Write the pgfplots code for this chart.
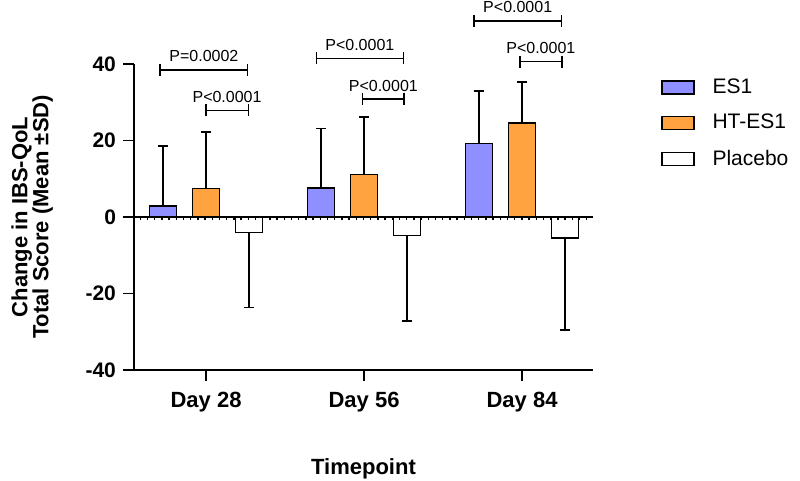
\documentclass[border=0pt]{standalone}
\usepackage{pgfplots}
\pgfplotsset{compat=1.18}
\usepackage{pgfplotstable}
\usepackage{fontspec}
\setmainfont{Liberation Sans}
\usetikzlibrary{arrows.meta}

\definecolor{esblue}{RGB}{143,143,255}
\definecolor{htorange}{RGB}{255,163,64}

% mean change and SD (one-sided error bars)
\pgfplotstableread{
x y err
0 2.9 15.7
1 7.6 15.5
2 19.2 13.8
}\esone
\pgfplotstableread{
x y err
0 7.4 14.8
1 11.1 15.0
2 24.6 10.7
}\htesone
\pgfplotstableread{
x y err
0 -4.0 19.6
1 -4.9 22.3
2 -5.5 24.1
}\placebo

\tikzset{
  pbar/.style={line width=0.75pt, {Bar[width=6pt]}-{Bar[width=6pt]}},
  plab/.style={anchor=south, inner sep=0pt, yshift=3.5pt, font=\fontsize{8}{9}\selectfont},
}

\begin{document}
\begin{tikzpicture}
\useasboundingbox (-67pt,-55.5pt) rectangle (333pt,185pt);
\begin{axis}[
  at={(0,0)}, anchor=south west,
  scale only axis, width=229.5pt, height=153pt,
  xmin=-0.456, xmax=2.449, ymin=-40, ymax=40,
  axis x line*=bottom, axis y line*=left,
  axis line style={line width=0.7pt, black},
  xtick={0,1,2}, xticklabels={Day 28,Day 56,Day 84},
  ytick={-40,-20,0,20,40}, yticklabels={-40,-20,0,20,40},
  tick align=outside, major tick length=5.5pt,
  tick style={line width=0.7pt, black},
  minor tick num=0,
  x tick label style={font=\bfseries\fontsize{11}{13}\selectfont, yshift=-2pt},
  y tick label style={font=\bfseries\fontsize{10.5}{12}\selectfont},
  xlabel={Timepoint},
  xlabel style={font=\bfseries\fontsize{11}{13}\selectfont,
    at={(axis description cs:0.5,0)}, anchor=center, yshift=-49.5pt},
  ylabel={Change in IBS-QoL\\[-2.5pt]Total Score (Mean ±SD)},
  ylabel style={font=\bfseries\fontsize{11}{13}\selectfont, align=center,
    at={(axis description cs:-0.222,0.5)}, anchor=center},
  ybar=8pt, bar width=13.5pt,
  clip=false,
  legend style={draw=none, fill=none, inner sep=0pt,
    at={(axis description cs:1.148,0.96)}, anchor=north west,
    font=\fontsize{10.5}{12}\selectfont, row sep=7pt, column sep=8pt,
    nodes={inner sep=1pt}},
  legend cell align=left,
  legend image code/.code={\draw[#1, line width=0.6pt] (0pt,-3.25pt) rectangle (16pt,3.25pt);},
  error bars/error bar style={line width=0.75pt, black},
  error bars/error mark options={rotate=90, mark size=2.5pt, line width=0.75pt, black},
]
\addplot[fill=esblue, draw=black, line width=0.6pt,
  error bars/.cd, y dir=plus, y explicit]
  table[x=x, y=y, y error=err]{\esone};
\addlegendentry{ES1}
\addplot[fill=htorange, draw=black, line width=0.6pt,
  error bars/.cd, y dir=plus, y explicit]
  table[x=x, y=y, y error=err]{\htesone};
\addlegendentry{HT-ES1}
\addplot[fill=white, draw=black, line width=0.6pt,
  error bars/.cd, y dir=minus, y explicit]
  table[x=x, y=y, y error=err]{\placebo};
\addlegendentry{Placebo}

% zero line with small dotted ticks
\draw[line width=0.7pt] (axis cs:-0.456,0) -- (axis cs:2.449,0);
\draw[line width=1pt, dash pattern=on 0.7pt off 2.9pt]
  ([yshift=-0.9pt]axis cs:-0.42,0) -- ([yshift=-0.9pt]axis cs:2.449,0);

% significance brackets
\draw[pbar] (axis cs:-0.295,38.5) -- node[plab]{P=0.0002} (axis cs:0.268,38.5);
\draw[pbar] (axis cs:-0.006,27.9) -- node[plab]{P<0.0001} (axis cs:0.272,27.9);
\draw[pbar] (axis cs:0.694,41.5) -- node[plab]{P<0.0001} (axis cs:1.253,41.5);
\draw[pbar] (axis cs:0.985,30.8) -- node[plab]{P<0.0001} (axis cs:1.259,30.8);
\draw[pbar] (axis cs:1.691,51.3) -- node[plab]{P<0.0001} (axis cs:2.254,51.3);
\draw[pbar] (axis cs:1.982,40.6) -- node[plab]{P<0.0001} (axis cs:2.256,40.6);
\end{axis}
\end{tikzpicture}
\end{document}
